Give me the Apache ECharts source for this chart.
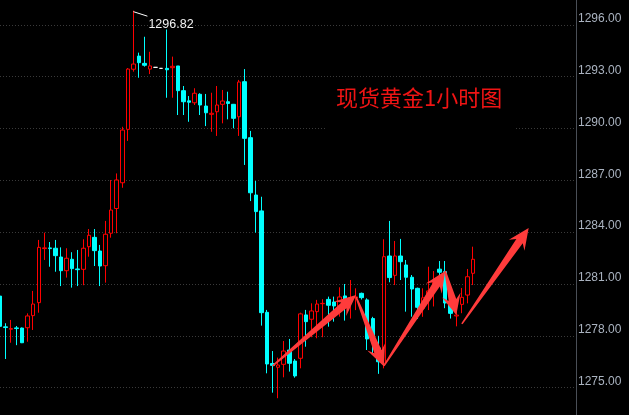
<!DOCTYPE html>
<html>
<head>
<meta charset="utf-8">
<script src="https://cdn.jsdelivr.net/npm/echarts@6/dist/echarts.min.js"></script>
<style>
html,body{margin:0;padding:0;background:#000;}
#chart{width:629px;height:415px;}
</style>
</head>
<body>
<div id="chart"></div>
<script>
const categories = Array.from({length: 104}, (_, i) => String(i + 1));

const opens = [
1280.30,1278.52,1278.38,1278.46,1278.45,1278.47,1279.17,1279.92,1283.05,1283.09,
1283.07,1282.56,1281.77,1282.43,1281.87,1281.85,1283.16,1283.70,1282.91,1282.06,
1283.94,1285.37,1286.86,1289.95,1293.43,1294.19,1293.77,1293.44,1293.54,1293.48,
1293.48,1293.52,1293.62,1292.19,1291.60,1291.49,1291.98,1291.30,1290.82,1290.97,
1291.40,1291.55,1291.40,1290.68,1292.71,1289.47,1286.15,1285.23,1279.36,1276.40,
1276.18,1276.35,1277.18,1276.54,1276.70,1279.21,1278.96,1279.40,1279.86,1280.11,
1279.96,1279.49,1280.31,1280.10,1280.20,1280.46,1280.08,1279.00,1277.30,1276.41,
1282.62,1281.50,1282.62,1282.10,1281.39,1280.75,1279.60,1280.30,1280.70,1281.86,
1281.72,1280.00,1279.15,1279.82,1280.36,1281.62];
const closes = [
1278.55,1278.48,1278.42,1278.42,1277.60,1279.15,1279.84,1283.12,1283.09,1283.05,
1282.64,1281.77,1282.49,1281.89,1281.83,1283.07,1283.82,1282.93,1282.04,1283.88,
1285.28,1287.02,1289.91,1293.44,1293.73,1293.81,1293.66,1293.62,1293.54,1293.48,
1293.40,1293.60,1292.19,1291.55,1291.52,1292.04,1291.36,1290.91,1290.88,1291.36,
1291.59,1291.45,1290.59,1292.69,1289.43,1286.28,1285.19,1279.34,1276.37,1276.29,
1276.31,1277.12,1276.41,1275.68,1279.27,1278.82,1279.44,1279.84,1279.88,1279.77,
1279.73,1280.25,1280.08,1280.20,1280.25,1280.21,1277.82,1277.60,1276.50,1282.58,
1281.37,1282.62,1282.29,1281.39,1280.71,1279.65,1280.20,1280.60,1281.10,1281.68,
1279.90,1279.30,1279.20,1280.23,1281.42,1282.43];
const lows = [
1278.40,1276.66,1277.60,1277.46,1277.58,1277.66,1278.34,1279.34,1282.39,1282.00,
1281.71,1280.88,1281.37,1280.79,1280.88,1280.93,1282.58,1282.04,1280.88,1281.08,
1283.68,1283.94,1286.57,1289.28,1293.29,1292.94,1293.58,1293.15,1293.54,1293.48,
1291.78,1291.78,1290.78,1290.78,1290.39,1291.36,1290.78,1290.14,1289.81,1289.57,
1290.30,1290.53,1290.01,1289.57,1287.89,1285.80,1283.97,1278.59,1275.83,1274.71,
1274.39,1275.60,1275.93,1275.58,1276.12,1277.37,1277.92,1277.86,1277.92,1278.53,
1278.82,1279.11,1278.88,1279.00,1279.49,1280.10,1277.18,1277.00,1275.80,1276.12,
1281.10,1280.94,1281.23,1279.40,1279.11,1278.98,1279.10,1279.49,1279.70,1280.94,
1279.60,1279.00,1278.55,1279.31,1279.88,1280.94];
const highs = [
1280.50,1278.73,1278.92,1278.57,1278.48,1279.30,1280.60,1283.55,1283.97,1283.43,
1283.55,1283.12,1283.07,1282.84,1282.97,1283.59,1284.18,1284.18,1283.26,1284.65,
1287.02,1287.40,1290.10,1293.50,1296.82,1294.39,1295.31,1294.44,1293.54,1293.48,
1295.73,1294.16,1293.62,1292.46,1291.88,1292.33,1292.04,1292.00,1292.07,1292.46,
1292.23,1292.13,1291.42,1292.81,1293.44,1289.86,1286.96,1286.05,1279.50,1277.12,
1276.74,1277.70,1277.82,1276.66,1279.34,1279.50,1279.88,1280.08,1280.12,1280.27,
1280.27,1280.81,1281.00,1281.23,1280.75,1280.50,1280.17,1279.10,1278.00,1283.59,
1284.65,1283.49,1283.61,1282.39,1281.52,1280.79,1280.75,1282.00,1281.75,1282.33,
1282.33,1280.30,1279.50,1280.77,1281.87,1283.16];

// flat (doji) bars drawn white
const whiteBars = [28, 29];

// arrows: [fromIndex, fromPrice, toIndex, toPrice]
const arrows = [
  [49.44, 1276.26, 64.22, 1280.36],
  [64.17, 1280.25, 68.78, 1276.22],
  [68.84, 1276.26, 80.10, 1281.75],
  [80.00, 1281.75, 82.36, 1279.21],
  [82.54, 1278.69, 94.88, 1284.24]
];

const titleText = '现货黄金1小时图';
const yMin = 1272, yMax = 1299, yStep = 3;

const white = {color:'#ffffff', color0:'#ffffff', borderColor:'#ffffff', borderColor0:'#ffffff', borderColorDoji:'#ffffff'};
const candleData = opens.map((o, i) => {
  const v = [o, closes[i], lows[i], highs[i]];
  return whiteBars.includes(i) ? {value: v, itemStyle: white} : v;
});

const hiVal = Math.max(...highs);
const hiIdx = highs.indexOf(hiVal);

function arrowItem(params, api) {
  const a = api.coord([api.value(0), api.value(1)]);
  const b = api.coord([api.value(2), api.value(3)]);
  const dx = b[0] - a[0], dy = b[1] - a[1];
  const len = Math.hypot(dx, dy);
  const ux = dx / len, uy = dy / len, nx = -uy, ny = ux;
  const hl = Math.min(21, len * 0.45), hw = 9.5, nw = 3.9, tw = 0.8;
  const neck = [b[0] - ux * hl * 0.76, b[1] - uy * hl * 0.76];
  const barb = [b[0] - ux * hl, b[1] - uy * hl];
  const pts = [
    [a[0] + nx * tw, a[1] + ny * tw],
    [neck[0] + nx * nw, neck[1] + ny * nw],
    [barb[0] + nx * hw, barb[1] + ny * hw],
    b,
    [barb[0] - nx * hw, barb[1] - ny * hw],
    [neck[0] - nx * nw, neck[1] - ny * nw],
    [a[0] - nx * tw, a[1] - ny * tw]
  ];
  return {type: 'polygon', shape: {points: pts}, style: {fill: '#ff3b3b'}};
}

function hiItem(params, api) {
  const p = api.coord([api.value(0), api.value(1)]);
  return {
    type: 'group',
    children: [
      {type: 'line', shape: {x1: p[0], y1: p[1] + 1, x2: p[0] + 14, y2: p[1] + 5.5},
       style: {stroke: '#ffffff', lineWidth: 1}},
      {type: 'text', style: {text: api.value(1).toFixed(2), x: p[0] + 15, y: p[1] + 13.5,
        verticalAlign: 'middle', align: 'left', fill: '#f2f2f2',
        font: '12.5px "Liberation Sans", Arial, sans-serif'}}
    ]
  };
}

const chart = echarts.init(document.getElementById('chart'));
chart.setOption({
  backgroundColor: '#000000',
  animation: false,
  grid: {left: -3, right: 53, top: -27, bottom: -24.5, containLabel: false, outerBoundsMode: 'none'},
  xAxis: {
    type: 'category', data: categories, boundaryGap: true, show: false
  },
  yAxis: {
    type: 'value', position: 'right', min: yMin, max: yMax, interval: yStep,
    axisLine: {show: true, lineStyle: {color: '#4a4f57', width: 1}},
    axisTick: {show: false},
    axisLabel: {
      color: '#aab3c0', fontSize: 12, margin: 2, verticalAlign: 'bottom',
      fontFamily: '"Liberation Sans", Arial, sans-serif',
      formatter: v => v.toFixed(2)
    },
    splitLine: {show: true, lineStyle: {color: '#3a3a3a', type: [1, 2], width: 1}}
  },
  graphic: [
    {type: 'rect', z: 50, shape: {x: 325, y: 80, width: 190, height: 54}, style: {fill: '#000000'}},
    {type: 'text', z: 51, style: {text: titleText, x: 336, y: 98, verticalAlign: 'middle',
      fill: '#f01414', font: '22px "Noto Sans CJK SC", sans-serif'}}
  ],
  series: [
    {
      type: 'candlestick',
      data: candleData,
      barWidth: 4,
      itemStyle: {
        color: '#000000', color0: '#00ffff',
        borderColor: '#ff0000', borderColor0: '#00ffff', borderWidth: 1
      }
    },
    {
      type: 'custom', renderItem: hiItem, z: 5,
      data: [[hiIdx, hiVal]], encode: {x: 0, y: 1}, silent: true
    },
    {
      type: 'custom', renderItem: arrowItem, z: 6, clip: false,
      data: arrows, encode: {x: [0, 2], y: [1, 3]}, silent: true
    }
  ]
});
</script>
</body>
</html>
